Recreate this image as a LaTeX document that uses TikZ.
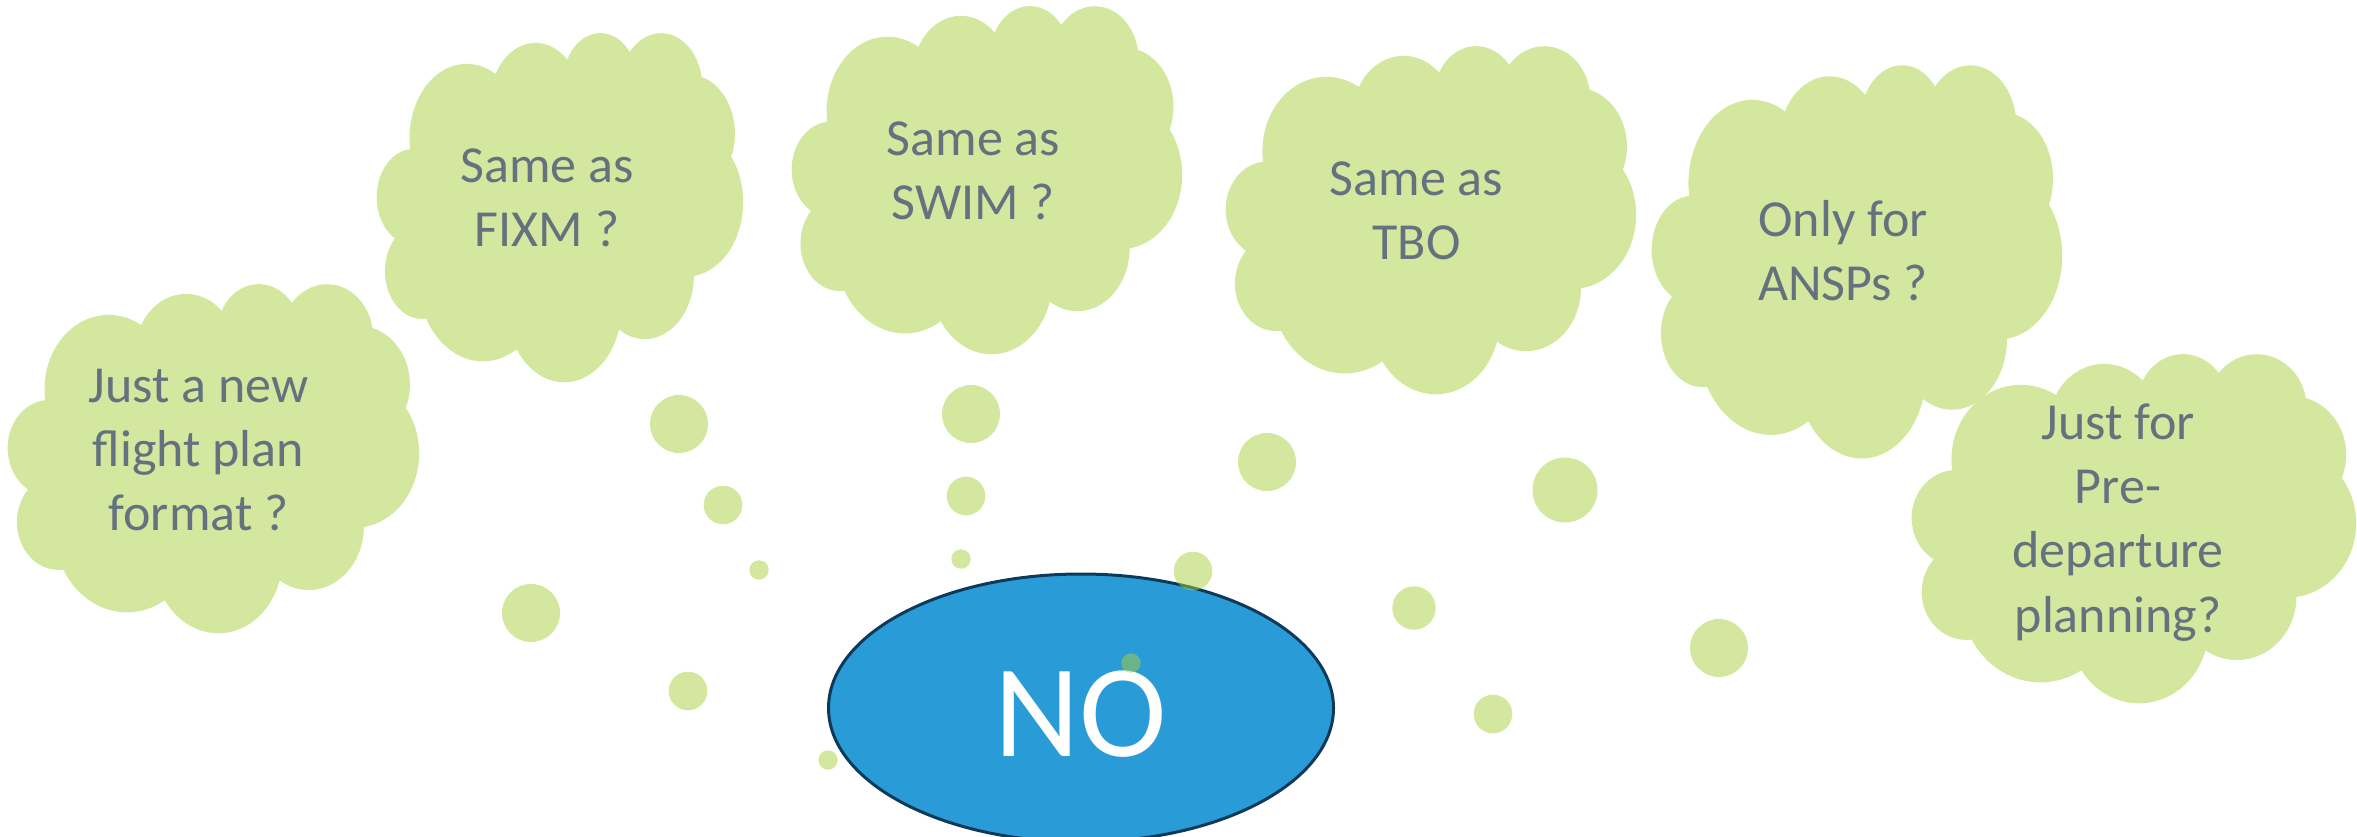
\documentclass[tikz,border=0pt]{standalone}
\usepackage{fontspec}
\setmainfont{Carlito}
\usetikzlibrary{shapes.geometric}
\definecolor{cloudgreen}{RGB}{212,231,158}
\definecolor{dotgreen}{RGB}{169,207,61}
\definecolor{noblue}{RGB}{41,156,215}
\definecolor{noborder}{RGB}{14,58,90}
\definecolor{textgray}{RGB}{99,114,126}

% OOXML arcTo (visual angles) -> TikZ parametric arc
\newcommand\cloudarc[4]{arc[x radius=#1, y radius=#2, start angle={atan2(#1*sin(#3),#2*cos(#3))}, delta angle={mod(atan2(#1*sin(#3+#4),#2*cos(#3+#4))-atan2(#1*sin(#3),#2*cos(#3))+720,360)}]}

% PowerPoint cloud shape in box (x0,y0,W,H), image coordinates
\newcommand\cloudshape[4]{%
  \pgfmathsetmacro\cloudxu{#3/43.2}%
  \pgfmathsetmacro\cloudyu{-#4/43.2}%
  \begin{scope}[shift={(#1,#2)}, x=\cloudxu pt, y=\cloudyu pt]
    \fill[cloudgreen] (3.9,14.37)
      \cloudarc{6.753}{9.190}{-190.48748}{123.78053}
      \cloudarc{5.333}{7.267}{-144.10238}{89.94523}
      \cloudarc{4.365}{5.945}{-145.80792}{99.72302}
      \cloudarc{4.857}{6.595}{-130.98607}{117.24173}
      \cloudarc{5.333}{7.273}{-78.70888}{109.02692}
      \cloudarc{6.775}{9.220}{-46.26725}{130.26900}
      \cloudarc{5.785}{7.867}{0.62502}{114.03333}
      \cloudarc{6.752}{9.215}{22.45160}{115.17255}
      \cloudarc{7.720}{10.543}{66.24263}{75.71102}
      \cloudarc{4.360}{5.918}{-274.94208}{146.73557}
      \cloudarc{4.345}{5.945}{-246.82850}{152.51885}
      -- cycle;
  \end{scope}}

\tikzset{
  cloudtext/.style={font=\fontsize{52}{64.3}\selectfont, text=textgray, align=center, anchor=north, inner sep=0pt},
  noshape/.style={ellipse, fill=noblue, draw=noborder, line width=3pt, minimum width=505pt, minimum height=268pt, inner sep=0pt, text=white, font=\fontsize{132}{150}\selectfont, text height=96pt, text depth=0pt},
  bubble/.style={fill=dotgreen, fill opacity=0.5}
}

\begin{document}
\begin{tikzpicture}[x=1pt,y=-1pt]
\useasboundingbox (0,0) rectangle (2357,836);

% clouds
\cloudshape{8}{283}{411}{349}
\node[cloudtext] (q1) at (198.5,357) {\strut Just a new\\\strut flight plan\\\strut format ?};

\cloudshape{377}{32}{366}{349}
\node[cloudtext] (q2) at (547,137) {\strut Same as\\\strut FIXM ?};

\cloudshape{792}{5}{390}{348}
\node[cloudtext] (q3) at (973.5,110) {\strut Same as\\\strut SWIM ?};

\cloudshape{1226}{45}{410}{348}
\node[cloudtext] (q4) at (1416.5,150) {\strut Same as\\\strut TBO};

\cloudshape{1652}{64}{410}{393}
\node[cloudtext] (q5) at (1843,191) {\strut Only for\\\strut ANSPs ?};

\cloudshape{1912}{353}{444}{349}
\node[cloudtext] (q6) at (2118,394) {\strut Just for\\\strut Pre-\\\strut departure\\\strut planning?};

% central answer
\node[noshape] (no) at (1081,708) {NO};

% thought bubbles
\fill[bubble] (679,424) circle[radius=29pt];
\fill[bubble] (723,505) circle[radius=19.3pt];
\fill[bubble] (759,570) circle[radius=9.7pt];
\fill[bubble] (531,613) circle[radius=29pt];
\fill[bubble] (688,691) circle[radius=19.3pt];
\fill[bubble] (828,760) circle[radius=9.7pt];
\fill[bubble] (971,414) circle[radius=29pt];
\fill[bubble] (966,496) circle[radius=19.3pt];
\fill[bubble] (961,559) circle[radius=9.7pt];
\fill[bubble] (1267,462) circle[radius=29pt];
\fill[bubble] (1193,571) circle[radius=19.3pt];
\fill[bubble] (1131,663) circle[radius=9.7pt];
\fill[bubble] (1565,490) circle[radius=32.5pt];
\fill[bubble] (1414,608) circle[radius=21.7pt];
\fill[bubble] (1719,648) circle[radius=29pt];
\fill[bubble] (1493,714) circle[radius=19.3pt];
\end{tikzpicture}
\end{document}
